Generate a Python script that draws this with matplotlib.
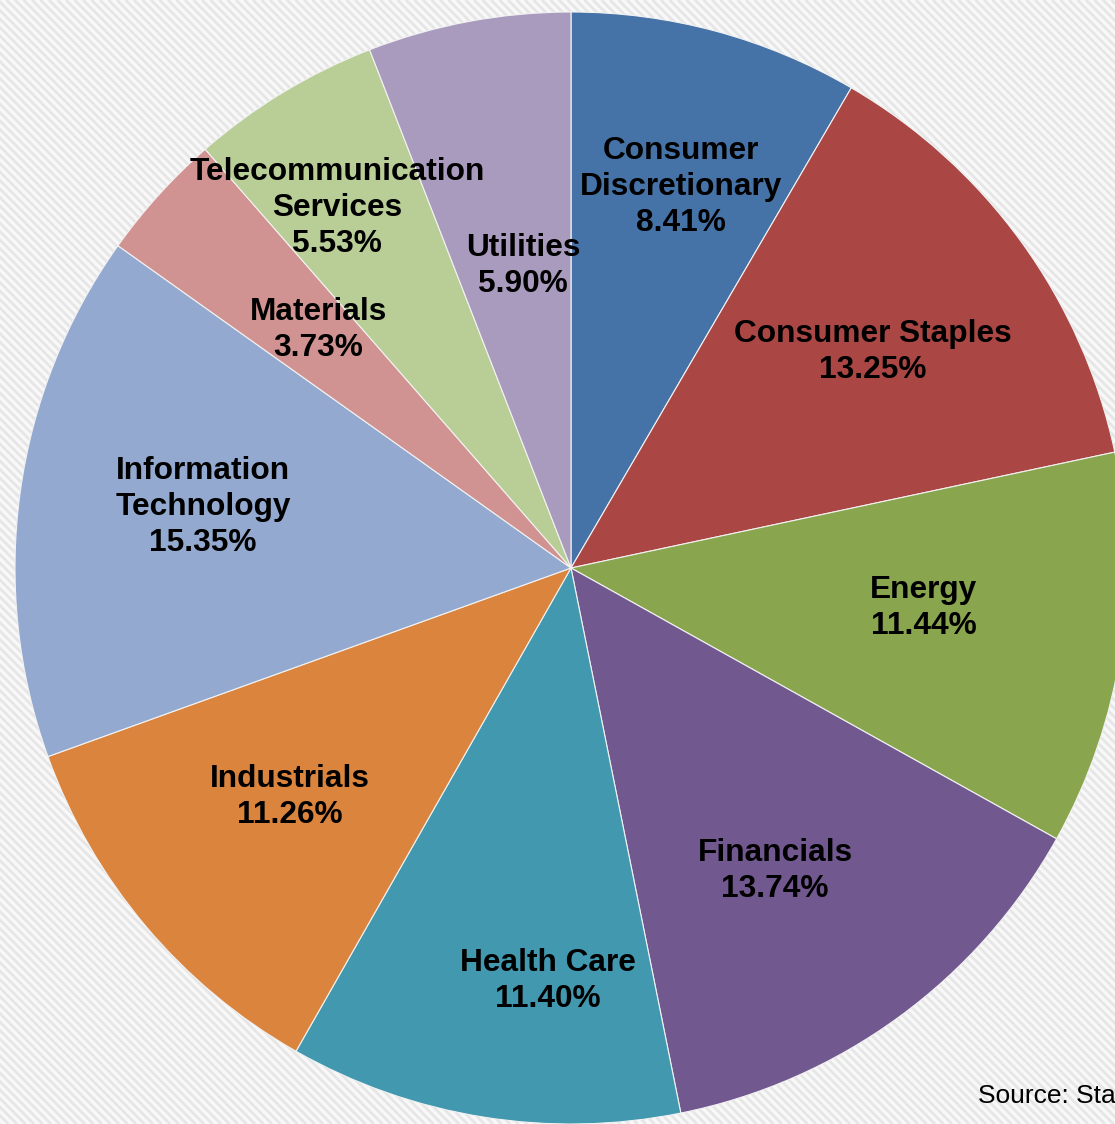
import matplotlib
matplotlib.use("Agg")
import matplotlib.pyplot as plt
from matplotlib.lines import Line2D
import numpy as np

# Sector weights (%)
sectors = [
    "Consumer\nDiscretionary", "Consumer Staples", "Energy", "Financials",
    "Health Care", "Industrials", "Information\nTechnology", "Materials",
    "Telecommunication\nServices", "Utilities",
]
weights = [8.41, 13.25, 11.44, 13.74, 11.40, 11.26, 15.35, 3.73, 5.53, 5.90]
colors = ["#4572A7", "#AA4643", "#89A54E", "#71588F", "#4198AF",
          "#DB843D", "#93A9CF", "#D19392", "#B9CD96", "#A99BBD"]

# Label anchor points (axes data units, pie radius = 1)
label_xy = [(0.198, 0.685), (0.543, 0.388), (0.634, -0.072), (0.367, -0.545),
            (-0.041, -0.743), (-0.505, -0.412), (-0.662, 0.110),
            (-0.455, 0.428), (-0.421, 0.647), (-0.086, 0.543)]

W, H = 1115, 1124
fig = plt.figure(figsize=(W / 100, H / 100), dpi=100)
fig.patch.set_facecolor("#F8F8F8")

# Diagonal striped backdrop
bg = fig.add_axes([0, 0, 1, 1], zorder=0)
bg.set_xlim(0, W)
bg.set_ylim(H, 0)
bg.axis("off")
period = 8.5
for x0 in np.arange(-H, W + period, period):
    bg.add_line(Line2D([x0, x0 + H], [0, H], color="#E6E6E6", lw=2.0,
                       solid_capstyle="butt"))

# Pie: centre at (571, 568) px, radius 556 px
cx, cy, R = 571, 568, 556
ax = fig.add_axes([0, 0, 1, 1], zorder=1)
ax.patch.set_alpha(0)

ax.pie(weights, colors=colors, startangle=90, counterclock=False, radius=1.0,
       wedgeprops=dict(edgecolor="#F2F2F2", linewidth=0.8), frame=True)
ax.set_xlim(-cx / R, (W - cx) / R)
ax.set_ylim(-(H - cy) / R, cy / R)
ax.set_aspect("auto")
ax.axis("off")

for name, w, (lx, ly) in zip(sectors, weights, label_xy):
    ax.text(lx, ly, f"{name}\n{w:.2f}%", ha="center", va="center",
            fontsize=22.8, fontweight="bold", family="Liberation Sans",
            color="black", linespacing=1.27)

fig.text(978 / W, 1 - 1103 / H, "Source: Statista", ha="left", va="baseline",
         fontsize=19, family="Liberation Sans", color="black")

fig.savefig("out.png", dpi=100, facecolor=fig.get_facecolor())
